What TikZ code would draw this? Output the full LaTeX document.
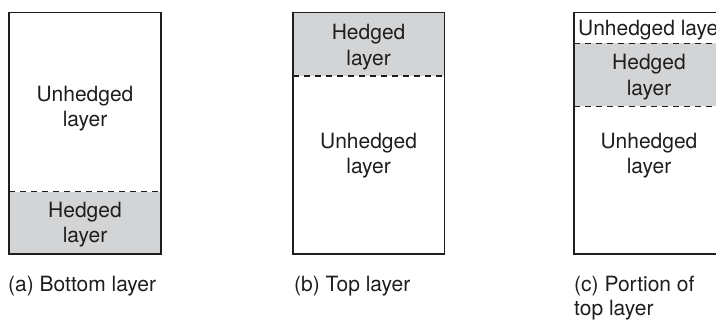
\documentclass[tikz,border=0pt]{standalone}
\usepackage{fontspec}
\setmainfont{TeX Gyre Heros}
\definecolor{hedge}{RGB}{211,212,214}
\definecolor{ink}{RGB}{30,30,30}
\tikzset{
  frame/.style={draw=ink, line width=1.2pt},
  divider/.style={draw=ink, line width=1.2pt, dash pattern=on 6pt off 5pt},
  lbl/.style={anchor=base, inner sep=0pt, font=\fontsize{21}{25}\selectfont, text=ink},
  captiontext/.style={lbl, anchor=base west},
}
\begin{document}
\begin{tikzpicture}[x=1pt,y=-1pt]
\useasboundingbox (0,0) rectangle (716,320);
\clip (0,0) rectangle (716,320);
% (a) bottom layer
\fill[hedge] (9,191.7) rectangle (161,254);
\draw[divider] (9,191.7) -- (161,191.7);
\draw[frame] (9,12.3) rectangle (161,254);
\node[lbl] (aU1) at (85,101.7) {Unhedged};
\node[lbl] (aU2) at (85,126.7) {layer};
\node[lbl] (aH1) at (85,217.3) {Hedged};
\node[lbl] (aH2) at (85,242.7) {layer};
\node[captiontext] (acap) at (8,292) {(a) Bottom layer};
% (b) top layer
\fill[hedge] (293,12.3) rectangle (444.3,76);
\draw[divider] (293,76) -- (444.3,76);
\draw[frame] (293,12.3) rectangle (444.3,254);
\node[lbl] (bH1) at (368.6,39.3) {Hedged};
\node[lbl] (bH2) at (368.6,65.3) {layer};
\node[lbl] (bU1) at (368.6,148.3) {Unhedged};
\node[lbl] (bU2) at (368.6,173.3) {layer};
\node[captiontext] (bcap) at (294,292) {(b) Top layer};
% (c) portion of top layer
\fill[hedge] (574,43.3) rectangle (726,106.5);
\draw[divider] (574,43.3) -- (726,43.3);
\draw[divider] (574,106.5) -- (726,106.5);
\draw[frame] (574,12.3) rectangle (726,254);
\node[captiontext] (cTop) at (578,35.7) {Unhedged layer};
\node[lbl] (cH1) at (649,70) {Hedged};
\node[lbl] (cH2) at (649,95.5) {layer};
\node[lbl] (cU1) at (649,148.3) {Unhedged};
\node[lbl] (cU2) at (649,173.3) {layer};
\node[captiontext] (ccap1) at (574,291.5) {(c) Portion of};
\node[captiontext] (ccap2) at (574,315.5) {top layer};
\end{tikzpicture}
\end{document}
